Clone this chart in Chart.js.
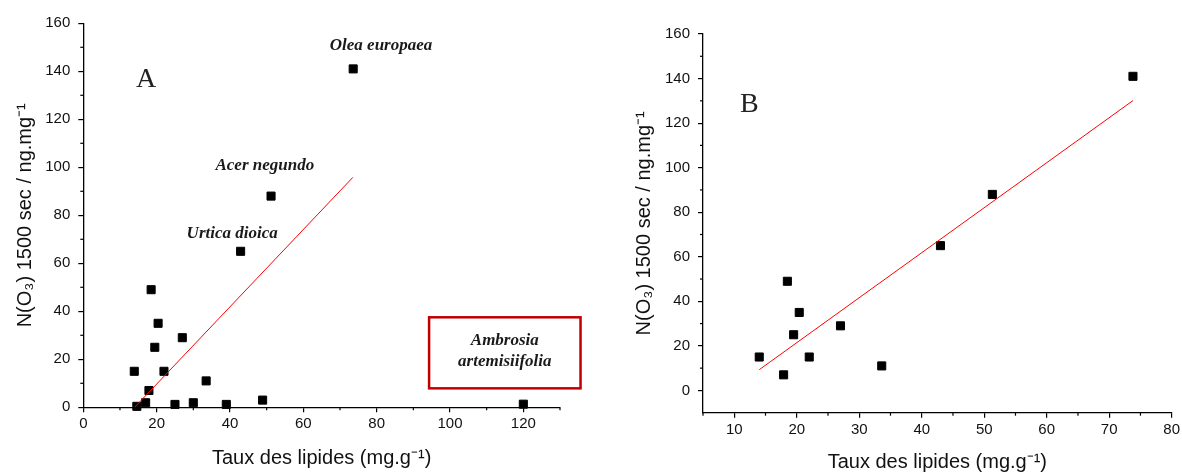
<!DOCTYPE html>
<html>
<head>
<meta charset="utf-8">
<script src="https://cdn.jsdelivr.net/npm/chart.js@4.4.0/dist/chart.umd.min.js"></script>
<style>
  html, body { margin: 0; padding: 0; background: #fff; }
  #wrap { position: relative; width: 1182px; height: 474px; overflow: hidden; }
  canvas { position: absolute; top: 0; }
  #chartA { left: 0; }
  #chartB { left: 591px; }
</style>
</head>
<body>
<div id="wrap">
  <canvas id="chartA" width="591" height="474"></canvas>
  <canvas id="chartB" width="591" height="474"></canvas>
</div>
<script>
// Panel A : every species
const lipidsA = [73.6, 51.2, 42.9, 18.5, 20.4, 19.5, 27.0, 13.9, 22.0, 33.5, 17.9, 17.0, 14.6, 25.0, 30.0, 39.0, 48.9, 120];
const ozoneA  = [141, 88, 65, 49, 35, 25, 29, 15, 15, 11, 7, 1.9, 0.4, 1.2, 1.9, 1.2, 3.0, 1.3];
const fitAx = [14.0, 73.5];
const fitAy = [0, 95.8];

// Panel B : without the near-zero species
const lipidsB = [14.0, 17.9, 18.5, 19.5, 20.4, 22.0, 27.0, 33.6, 43.0, 51.3, 73.8];
const ozoneB  = [15, 7, 49, 25, 35, 15, 29, 11, 65, 88, 141];
const fitBx = [14.0, 73.8];
const fitBy = [9.3, 130.1];

// tick labels
const xTicksA = [0, 20, 40, 60, 80, 100, 120];
const xMinorA = [10, 30, 50, 70, 90, 110, 130];
const yTicksA = [0, 20, 40, 60, 80, 100, 120, 140, 160];
const yMinorA = [10, 30, 50, 70, 90, 110, 130, 150];
const xTicksB = [10, 20, 30, 40, 50, 60, 70, 80];
const xMinorB = [5, 15, 25, 35, 45, 55, 65, 75];
const yTicksB = [0, 20, 40, 60, 80, 100, 120, 140, 160];
const yMinorB = [10, 30, 50, 70, 90, 110, 130, 150];

const speciesNames = ['Olea europaea', 'Acer negundo', 'Urtica dioica'];
const boxedName = ['Ambrosia', 'artemisiifolia'];

const SANS = "'Liberation Sans', Arial, sans-serif";
const SERIF = "'Liberation Serif', 'Times New Roman', serif";
const INK = '#111';

const pair = (xs, ys) => xs.map((v, i) => ({ x: v, y: ys[i] }));

// minor ticks, panel letter and species notes, drawn through the scales
const decor = {
    id: 'decor',
    afterDraw(chart, args, o) {
        const { ctx, scales: { x, y } } = chart;
        ctx.save();
        ctx.strokeStyle = '#000';
        ctx.lineWidth = 1.2;
        o.xMinor.forEach(v => {
            const px = x.getPixelForValue(v);
            ctx.beginPath(); ctx.moveTo(px, x.top); ctx.lineTo(px, x.top + 3); ctx.stroke();
        });
        o.yMinor.forEach(v => {
            const py = y.getPixelForValue(v);
            ctx.beginPath(); ctx.moveTo(y.right, py); ctx.lineTo(y.right - 3, py); ctx.stroke();
        });

        ctx.fillStyle = '#222';
        ctx.textAlign = 'center';
        ctx.textBaseline = 'middle';
        ctx.font = `28px ${SERIF}`;
        ctx.fillText(o.letter.text, x.getPixelForValue(o.letter.x), y.getPixelForValue(o.letter.y));

        (o.notes || []).forEach(n => {
            ctx.font = `bold italic 17px ${SERIF}`;
            ctx.fillStyle = '#1a1a1a';
            ctx.fillText(n.text, x.getPixelForValue(n.x), y.getPixelForValue(n.y));
        });

        if (o.box) {
            const b = o.box;
            const x1 = x.getPixelForValue(b.x1), x2 = x.getPixelForValue(b.x2);
            const y1 = y.getPixelForValue(b.y1), y2 = y.getPixelForValue(b.y2);
            ctx.strokeStyle = '#c00000';
            ctx.lineWidth = 2.5;
            ctx.strokeRect(x1, y1, x2 - x1, y2 - y1);
            ctx.font = `bold italic 17px ${SERIF}`;
            ctx.fillStyle = '#1a1a1a';
            b.lines.forEach((t, i) => {
                ctx.fillText(t, (x1 + x2) / 2, y.getPixelForValue(b.textY[i]));
            });
        }
        ctx.restore();
    }
};

function makeAxis(min, max, tickValues, size, title, titlePad, vertical) {
    return {
        type: 'linear',
        min: min,
        max: max,
        afterBuildTicks: s => { s.ticks = tickValues.map(v => ({ value: v })); },
        afterFit: s => {
            if (vertical) { s.width = size; s.paddingTop = 0; s.paddingBottom = 0; }
            else { s.height = size; s.paddingLeft = 0; s.paddingRight = 0; }
        },
        grid: { display: true, drawOnChartArea: false, drawTicks: true, tickLength: 5, color: '#000', lineWidth: 1.2 },
        border: { display: true, color: '#000', width: 1.3 },
        ticks: {
            color: INK,
            font: { family: SANS, size: 15 },
            padding: vertical ? 8 : 3,
            maxRotation: 0,
            autoSkip: false
        },
        title: {
            display: true,
            text: title,
            color: INK,
            font: { family: SANS, size: 20 },
            padding: vertical ? { top: titlePad, bottom: 0 } : { top: 0, bottom: titlePad }
        }
    };
}

const yTitle = 'N(O\u2083) 1500 sec / ng.mg\u207B\u00B9';
const xTitle = 'Taux des lipides (mg.g\u207B\u00B9)';

function makeChart(id, pts, fit, axes, pad, decorOpts) {
    return new Chart(document.getElementById(id), {
        type: 'scatter',
        data: {
            datasets: [
                {
                    data: fit,
                    showLine: true,
                    borderColor: '#ff0000',
                    borderWidth: 1,
                    pointRadius: 0,
                    fill: false
                },
                {
                    data: pts,
                    pointStyle: 'rect',
                    pointRadius: 5.7,
                    backgroundColor: '#000',
                    borderColor: '#000',
                    borderWidth: 1,
                    clip: false
                }
            ]
        },
        options: {
            responsive: false,
            animation: false,
            layout: { padding: pad },
            plugins: {
                legend: { display: false },
                tooltip: { enabled: false },
                decor: decorOpts
            },
            scales: axes
        },
        plugins: [decor]
    });
}

makeChart('chartA', pair(lipidsA, ozoneA), pair(fitAx, fitAy), {
    x: makeAxis(0, 130, xTicksA, 66.7, xTitle, 4, false),
    y: makeAxis(0, 160, yTicksA, 83.3, yTitle, 13, true)
}, { left: 0, right: 31, top: 23.3, bottom: 0 }, {
    xMinor: xMinorA,
    yMinor: yMinorA,
    letter: { text: 'A', x: 17.1, y: 136.4 },
    notes: [
        { text: speciesNames[0], x: 81.2, y: 150.7 },
        { text: speciesNames[1], x: 49.5, y: 100.5 },
        { text: speciesNames[2], x: 40.6, y: 72.2 }
    ],
    box: { x1: 94.3, x2: 135.6, y1: 37.5, y2: 7.9, lines: boxedName, textY: [27.7, 19.0] }
});

makeChart('chartB', pair(lipidsB, ozoneB), pair(fitBx, fitBy), {
    x: makeAxis(5, 80, xTicksB, 61.3, xTitle, 0, false),
    y: makeAxis(-10, 160, yTicksB, 112, yTitle, 41.5, true)
}, { left: 0, right: 10.3, top: 34, bottom: 0 }, {
    xMinor: xMinorB,
    yMinor: yMinorB,
    letter: { text: 'B', x: 12.4, y: 128.5 }
});
</script>
</body>
</html>
